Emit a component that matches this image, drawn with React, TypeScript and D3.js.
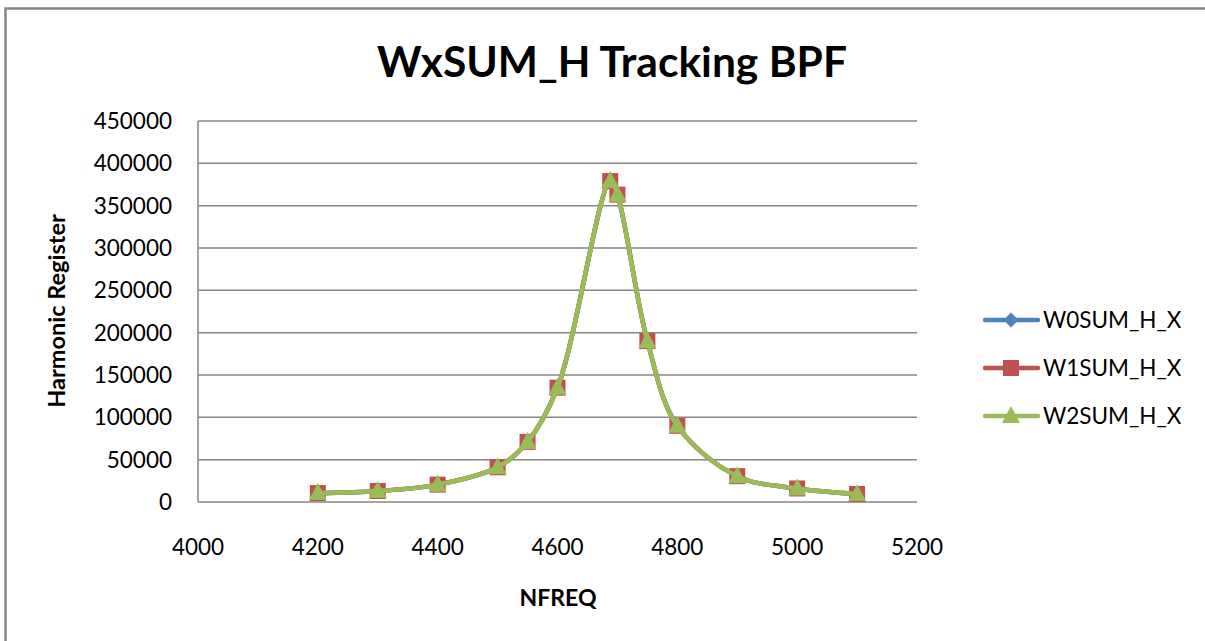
import React from "react";
import * as d3 from "d3";

const nfreq = [4200, 4300, 4400, 4500, 4550, 4600, 4688, 4700, 4750, 4800, 4900, 5000, 5100];
const w0 = [10500, 13000, 20500, 41000, 71000, 135000, 379000, 363000, 190000, 90000, 30500, 16000, 9500];
const w1 = [10500, 13000, 20500, 41000, 71000, 135000, 379000, 363000, 190000, 90000, 30500, 16000, 9500];
const w2 = [10500, 13000, 20500, 41000, 71000, 135000, 379000, 363000, 190000, 90000, 30500, 16000, 9500];
const seriesNames = ["W0SUM_H_X", "W1SUM_H_X", "W2SUM_H_X"];
const seriesColors = ["#4F81BD", "#C0504D", "#9BBB59"];
const xTicks = [4000, 4200, 4400, 4600, 4800, 5000, 5200];
const yTicks = [0, 50000, 100000, 150000, 200000, 250000, 300000, 350000, 400000, 450000];

const FONT = "Lato, 'Open Sans', sans-serif";
const FS = 22.5;

export default function App() {
  const W = 1205, H = 641;
  const x = d3.scaleLinear().domain([4000, 5200]).range([198, 917]);
  const y = d3.scaleLinear().domain([0, 450000]).range([502, 121]);
  const line = d3.line<number>().curve(d3.curveCatmullRom.alpha(0.5));
  const all = [w0, w1, w2];

  const marker = (i: number, cx: number, cy: number, key: string) => {
    const c = seriesColors[i];
    if (i === 0) {
      const s = 7.5;
      return <path key={key} d={`M${cx},${cy - s}L${cx + s},${cy}L${cx},${cy + s}L${cx - s},${cy}Z`} fill={c} />;
    }
    if (i === 1) {
      return <rect key={key} x={cx - 8} y={cy - 8} width={16} height={16} fill={c} />;
    }
    return <path key={key} d={`M${cx},${cy - 10}L${cx + 9},${cy + 7}L${cx - 9},${cy + 7}Z`} fill={c} />;
  };

  return (
    <div style={{ position: "absolute", left: 0, top: 0, width: W, height: H, overflow: "hidden" }}>
      <svg width={W} height={H} style={{ display: "block", background: "#fff" }}>
        <rect x={5.5} y={8.5} width={1215} height={660} fill="#fff" stroke="#888" strokeWidth={2.5} />
        <text x={612} y={77} textAnchor="middle" fontFamily={FONT} fontWeight="bold" fontSize={42.5} fill="#000">
          WxSUM_H Tracking BPF
        </text>
        {yTicks.map((t) => (
          <g key={t}>
            <line x1={198} x2={917} y1={y(t)} y2={y(t)} stroke="#868686" strokeWidth={1.5} />
            <text x={172} y={y(t) + 8} textAnchor="end" fontFamily={FONT} fontSize={FS} fill="#000">
              {t}
            </text>
          </g>
        ))}
        <line x1={198} x2={198} y1={121} y2={502} stroke="#868686" strokeWidth={1.5} />
        {xTicks.map((t) => (
          <text key={t} x={x(t)} y={555} textAnchor="middle" fontFamily={FONT} fontSize={FS} fill="#000">
            {t}
          </text>
        ))}
        <text x={558} y={606} textAnchor="middle" fontFamily={FONT} fontWeight="bold" fontSize={23} fill="#000">
          NFREQ
        </text>
        <text transform={`translate(65,311) rotate(-90)`} textAnchor="middle" fontFamily={FONT} fontWeight="bold" fontSize={23.5} fill="#000">
          Harmonic Register
        </text>
        {all.map((vals, i) => {
          const pts = nfreq.map((f, j) => [x(f), y(vals[j])] as [number, number]);
          return (
            <g key={i}>
              <path d={line(pts as any) || ""} fill="none" stroke={seriesColors[i]} strokeWidth={4.5} strokeLinejoin="round" />
              {pts.map((p, j) => marker(i, p[0], p[1], `${i}-${j}`))}
            </g>
          );
        })}
        {seriesNames.map((n, i) => {
          const ly = 320 + i * 48;
          return (
            <g key={n}>
              <line x1={985} x2={1038} y1={ly} y2={ly} stroke={seriesColors[i]} strokeWidth={4.5} strokeLinecap="round" />
              {marker(i, 1011, ly, `l${i}`)}
              <text x={1043} y={ly + 8} fontFamily={FONT} fontSize={FS} fill="#000">
                {n}
              </text>
            </g>
          );
        })}
      </svg>
    </div>
  );
}
